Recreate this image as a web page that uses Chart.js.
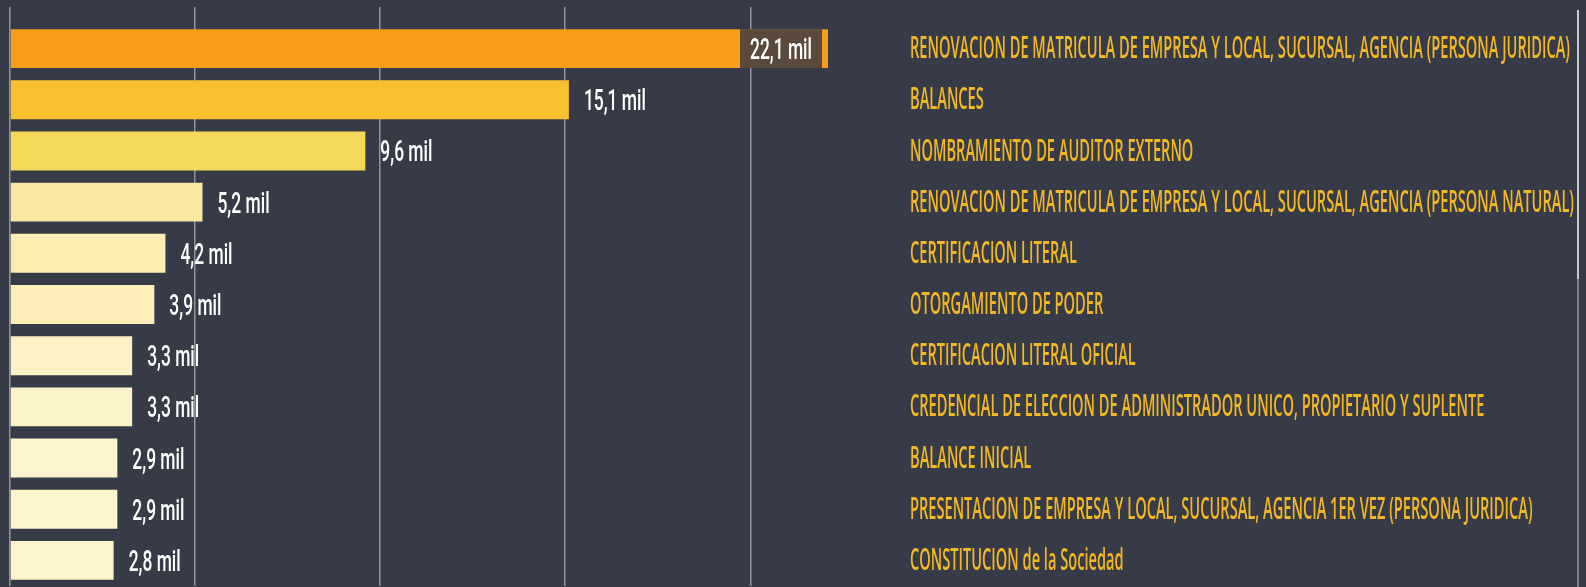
<!DOCTYPE html>
<html>
<head>
<meta charset="utf-8">
<script src="https://cdn.jsdelivr.net/npm/chart.js@4/dist/chart.umd.min.js"></script>
<style>
html, body { margin: 0; padding: 0; background: #373b47; overflow: hidden; }
#wrap { position: relative; width: 1586px; height: 587px; }
.scroll { position: absolute; left: 1577px; width: 2px; }
</style>
</head>
<body>
<div id="wrap">
    <canvas id="chart" width="1586" height="587"></canvas>
    <div class="scroll" style="top:10px;height:269px;background:#c9cacc"></div>
    <div class="scroll" style="top:279px;height:308px;background:#7d8087"></div>
</div>
<script>
// Categories (top to bottom)
const categories = [
    "RENOVACION DE MATRICULA DE EMPRESA Y LOCAL, SUCURSAL, AGENCIA (PERSONA JURIDICA)",
    "BALANCES",
    "NOMBRAMIENTO DE AUDITOR EXTERNO",
    "RENOVACION DE MATRICULA DE EMPRESA Y LOCAL, SUCURSAL, AGENCIA (PERSONA NATURAL)",
    "CERTIFICACION LITERAL",
    "OTORGAMIENTO DE PODER",
    "CERTIFICACION LITERAL OFICIAL",
    "CREDENCIAL DE ELECCION DE ADMINISTRADOR UNICO, PROPIETARIO Y SUPLENTE",
    "BALANCE INICIAL",
    "PRESENTACION DE EMPRESA Y LOCAL, SUCURSAL, AGENCIA 1ER VEZ (PERSONA JURIDICA)",
    "CONSTITUCION de la Sociedad"
];

// Counts per category
const values = [22100, 15100, 9600, 5200, 4200, 3900, 3300, 3300, 2900, 2900, 2800];

const barColors = [
    "#fa9c1b", "#f8bf31", "#f5d95a", "#fae8a0", "#fcedb3", "#fdefba",
    "#fdf2c6", "#fdf3c8", "#fdf4cc", "#fdf4cc", "#fdf4cc"
];

// Gridline positions on the value axis
const xTicks = [0, 5000, 10000, 15000, 20000];

const fmtValue = (v) => (v / 1000).toFixed(1).replace('.', ',') + ' mil';

// Draws category names on the right and value labels after each bar
const labelPlugin = {
    id: 'sideLabels',
    afterDatasetsDraw(chart) {
        const ctx = chart.ctx;
        const area = chart.chartArea;
        const yScale = chart.scales.y;
        const bars = chart.getDatasetMeta(0).data;

        ctx.save();
        ctx.textBaseline = 'middle';

        // category labels (squeezed like the original)
        ctx.font = '600 30px "Open Sans"';
        const longest = Math.max(...categories.map(c => ctx.measureText(c).width));
        const sx = 664 / longest;
        ctx.fillStyle = '#f2b824';
        categories.forEach((c, i) => {
            const y = yScale.getPixelForValue(i);
            ctx.save();
            ctx.translate(910, y + 1);
            ctx.scale(sx, 1);
            ctx.fillText(c, 0, 0);
            ctx.restore();
        });

        // value labels
        ctx.font = '500 30px Roboto';
        const vx = 62 / ctx.measureText('22,1 mil').width;
        bars.forEach((bar, i) => {
            const txt = fmtValue(values[i]);
            const w = ctx.measureText(txt).width * vx;
            let x = bar.x + 15;
            if (x + w > area.right) {
                // no room: put it inside the bar on a dark box
                const right = bar.x - 6;
                const left = right - w - 20;
                ctx.fillStyle = '#5b4a3b';
                ctx.fillRect(left, bar.y - bar.height / 2, right - left, bar.height);
                x = left + 10;
            }
            ctx.fillStyle = '#ffffff';
            ctx.save();
            ctx.translate(x, bar.y + 3);
            ctx.scale(vx, 1);
            ctx.fillText(txt, 0, 0);
            ctx.restore();
        });

        ctx.restore();
    }
};

const ctx = document.getElementById('chart').getContext('2d');

const chart = new Chart(ctx, {
    type: 'bar',
    data: {
        labels: categories,
        datasets: [{
            data: values,
            backgroundColor: barColors,
            borderWidth: 0,
            barPercentage: 0.76,
            categoryPercentage: 1
        }]
    },
    options: {
        indexAxis: 'y',
        responsive: false,
        devicePixelRatio: 1,
        animation: false,
        layout: {
            padding: { left: 10, right: 758, top: 7, bottom: 1 }
        },
        scales: {
            x: {
                position: 'top',
                min: 0,
                max: 22100,
                afterBuildTicks: (scale) => {
                    scale.ticks = xTicks.map(v => ({ value: v }));
                },
                grid: {
                    color: 'rgba(195, 197, 203, 0.65)',
                    lineWidth: 1.5,
                    tickLength: 16,
                    drawTicks: true
                },
                border: { display: false },
                ticks: { display: false }
            },
            y: {
                display: false
            }
        },
        plugins: {
            legend: { display: false },
            tooltip: { enabled: false }
        }
    },
    plugins: [labelPlugin]
});
</script>
</body>
</html>
